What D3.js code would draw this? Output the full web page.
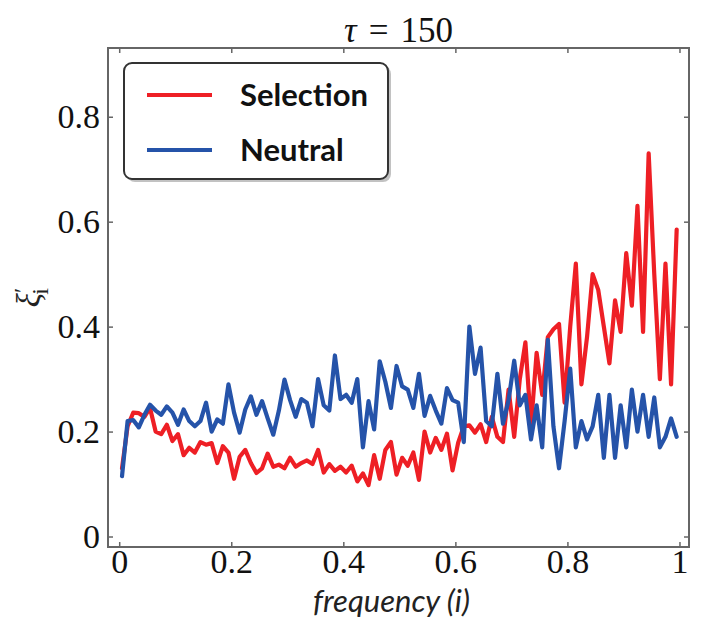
<!DOCTYPE html>
<html>
<head>
<meta charset="utf-8">
<script src="https://cdn.jsdelivr.net/npm/d3@7/dist/d3.min.js"></script>
<style>
    body { margin: 0; background: #fff; }
    .tick text { font-family: "Liberation Serif", "DejaVu Serif", serif; font-size: 34px; fill: #111; }
    .tick line { stroke: #666; stroke-width: 1.5; }
    .frame { fill: none; stroke: #666; stroke-width: 2; }
    .title { font-family: "Liberation Serif", serif; font-size: 35px; fill: #111; }
    .x-label { font-family: "Lato", "Open Sans", sans-serif; font-style: italic; font-size: 31px; fill: #222; }
    .y-label { font-family: "Liberation Serif", serif; font-size: 33px; fill: #222; }
    .legend-text { font-family: "Lato", "Open Sans", sans-serif; font-weight: bold; font-size: 31px; fill: #111; }
</style>
</head>
<body>
<script>

/**********************
 ***    Constants   ***
 **********************/

const SCREEN = {
    width: 704,
    height: 628,
    left: 108,
    right: 689,
    top: 48,
    bottom: 547
};

const X_LABEL = "frequency (i)";

// frequency bins
const freqs = [
    0.005, 0.015, 0.025, 0.035, 0.045, 0.055, 0.065, 0.075, 0.085, 0.095,
    0.105, 0.115, 0.125, 0.135, 0.145, 0.155, 0.165, 0.175, 0.185, 0.195,
    0.205, 0.215, 0.225, 0.235, 0.245, 0.255, 0.265, 0.275, 0.285, 0.295,
    0.305, 0.315, 0.325, 0.335, 0.345, 0.355, 0.365, 0.375, 0.385, 0.395,
    0.405, 0.415, 0.425, 0.435, 0.445, 0.455, 0.465, 0.475, 0.485, 0.495,
    0.505, 0.515, 0.525, 0.535, 0.545, 0.555, 0.565, 0.575, 0.585, 0.595,
    0.605, 0.615, 0.625, 0.635, 0.645, 0.655, 0.665, 0.675, 0.685, 0.695,
    0.705, 0.715, 0.725, 0.735, 0.745, 0.755, 0.765, 0.775, 0.785, 0.795,
    0.805, 0.815, 0.825, 0.835, 0.845, 0.855, 0.865, 0.875, 0.885, 0.895,
    0.905, 0.915, 0.925, 0.935, 0.945, 0.955, 0.965, 0.975, 0.985, 0.995
];

const selection = [
    0.130, 0.210, 0.236, 0.235, 0.228, 0.245, 0.200, 0.195, 0.213, 0.182,
    0.195, 0.155, 0.169, 0.160, 0.180, 0.175, 0.178, 0.140, 0.172, 0.160,
    0.110, 0.152, 0.165, 0.140, 0.121, 0.130, 0.158, 0.133, 0.137, 0.130,
    0.150, 0.133, 0.140, 0.145, 0.138, 0.165, 0.122, 0.138, 0.125, 0.133,
    0.122, 0.135, 0.105, 0.120, 0.098, 0.155, 0.110, 0.165, 0.180, 0.118,
    0.150, 0.135, 0.160, 0.108, 0.200, 0.160, 0.188, 0.165, 0.196, 0.126,
    0.179, 0.210, 0.212, 0.198, 0.214, 0.180, 0.228, 0.190, 0.180, 0.280,
    0.190, 0.300, 0.370, 0.210, 0.350, 0.270, 0.380, 0.395, 0.405, 0.255,
    0.400, 0.520, 0.290, 0.380, 0.500, 0.470, 0.400, 0.330, 0.450, 0.390,
    0.540, 0.440, 0.630, 0.390, 0.730, 0.500, 0.300, 0.520, 0.290, 0.585
];

const neutral = [
    0.115, 0.220, 0.222, 0.208, 0.232, 0.251, 0.240, 0.232, 0.248, 0.236,
    0.213, 0.242, 0.220, 0.210, 0.220, 0.255, 0.200, 0.223, 0.215, 0.290,
    0.236, 0.198, 0.242, 0.267, 0.232, 0.258, 0.225, 0.194, 0.240, 0.299,
    0.260, 0.228, 0.262, 0.255, 0.210, 0.300, 0.250, 0.240, 0.345, 0.262,
    0.270, 0.255, 0.300, 0.170, 0.258, 0.204, 0.334, 0.295, 0.245, 0.325,
    0.286, 0.280, 0.245, 0.310, 0.230, 0.268, 0.240, 0.215, 0.283, 0.260,
    0.255, 0.180, 0.400, 0.310, 0.360, 0.220, 0.210, 0.310, 0.215, 0.260,
    0.335, 0.250, 0.270, 0.185, 0.250, 0.170, 0.375, 0.210, 0.130, 0.220,
    0.320, 0.170, 0.220, 0.185, 0.210, 0.270, 0.150, 0.270, 0.150, 0.250,
    0.170, 0.280, 0.200, 0.270, 0.190, 0.265, 0.170, 0.190, 0.225, 0.190
];

const xTicks = [0, 0.2, 0.4, 0.6, 0.8, 1];
const yTicks = [0, 0.2, 0.4, 0.6, 0.8];

const seriesList = [
    { name: "Selection", values: selection, color: "#ee1f25" },
    { name: "Neutral", values: neutral, color: "#2553a9" }
];

/******************
 *  Scales / svg  *
 ******************/

const x = d3.scaleLinear()
    .domain([-0.02, 1.017])
    .range([SCREEN.left, SCREEN.right]);

const y = d3.scaleLinear()
    .domain([-0.02, 0.931])
    .range([SCREEN.bottom, SCREEN.top]);

const svg = d3.select("body").append("svg")
    .attr("width", SCREEN.width)
    .attr("height", SCREEN.height);

const fmt = d3.format("~g");

// axes, ticks pointing inward on all four sides
svg.append("g")
    .attr("transform", `translate(0,${SCREEN.bottom})`)
    .call(d3.axisBottom(x).tickValues(xTicks).tickSize(-5).tickSizeOuter(0).tickPadding(2).tickFormat(fmt))
    .call(g => g.select(".domain").remove());

svg.append("g")
    .attr("transform", `translate(0,${SCREEN.top})`)
    .call(d3.axisTop(x).tickValues(xTicks).tickSize(-5).tickSizeOuter(0).tickFormat(""))
    .call(g => g.select(".domain").remove());

svg.append("g")
    .attr("transform", `translate(${SCREEN.left},0)`)
    .call(d3.axisLeft(y).tickValues(yTicks).tickSize(-5).tickSizeOuter(0).tickPadding(8).tickFormat(fmt))
    .call(g => g.select(".domain").remove());

svg.append("g")
    .attr("transform", `translate(${SCREEN.right},0)`)
    .call(d3.axisRight(y).tickValues(yTicks).tickSize(-5).tickSizeOuter(0).tickFormat(""))
    .call(g => g.select(".domain").remove());

/******************
 *     Lines      *
 ******************/

const line = d3.line()
    .x((d, i) => x(freqs[i]))
    .y(d => y(d));

svg.append("defs").append("clipPath")
    .attr("id", "plot-clip")
    .append("rect")
    .attr("x", SCREEN.left)
    .attr("y", SCREEN.top)
    .attr("width", SCREEN.right - SCREEN.left)
    .attr("height", SCREEN.bottom - SCREEN.top);

svg.append("g")
    .attr("clip-path", "url(#plot-clip)")
    .selectAll("path")
    .data(seriesList)
    .enter()
    .append("path")
        .attr("d", d => line(d.values))
        .attr("fill", "none")
        .attr("stroke", d => d.color)
        .attr("stroke-width", 4.2)
        .attr("stroke-linejoin", "round")
        .attr("stroke-linecap", "round");

svg.append("rect")
    .attr("class", "frame")
    .attr("x", SCREEN.left)
    .attr("y", SCREEN.top)
    .attr("width", SCREEN.right - SCREEN.left)
    .attr("height", SCREEN.bottom - SCREEN.top);

/******************
 *  Text / legend *
 ******************/

const title = svg.append("text")
    .attr("class", "title")
    .attr("x", (SCREEN.left + SCREEN.right) / 2)
    .attr("y", 42)
    .attr("text-anchor", "middle");
title.append("tspan").attr("font-style", "italic").text("\u03c4");
title.append("tspan").attr("dx", 12).text("=");
title.append("tspan").attr("dx", 12).text("150");

svg.append("text")
    .attr("class", "x-label")
    .attr("x", (SCREEN.left + SCREEN.right) / 2 - 7)
    .attr("y", 612)
    .attr("text-anchor", "middle")
    .text(X_LABEL);

const yLabel = svg.append("text")
    .attr("class", "y-label")
    .attr("transform", `translate(40,${(SCREEN.top + SCREEN.bottom) / 2}) rotate(-90)`)
    .attr("text-anchor", "middle");
yLabel.append("tspan").attr("font-style", "italic").text("\u03be");
yLabel.append("tspan").attr("dy", -10).attr("font-size", 24).text("\u2032");
yLabel.append("tspan").attr("dx", -7).attr("dy", 18).attr("font-size", 24).text("i");

const legend = svg.append("g")
    .attr("transform", "translate(124,63)");

legend.append("rect")
    .attr("x", 3).attr("y", 3)
    .attr("width", 264).attr("height", 116)
    .attr("rx", 8)
    .attr("fill", "#9a9a9a")
    .attr("opacity", 0.6);

legend.append("rect")
    .attr("width", 264).attr("height", 116)
    .attr("rx", 8)
    .attr("fill", "#fff")
    .attr("stroke", "#333")
    .attr("stroke-width", 2);

seriesList.forEach((s, i) => {
    const ly = 32 + i * 55;
    legend.append("line")
        .attr("x1", 23).attr("x2", 88)
        .attr("y1", ly).attr("y2", ly)
        .attr("stroke", s.color)
        .attr("stroke-width", 4);
    legend.append("text")
        .attr("class", "legend-text")
        .attr("x", 116)
        .attr("y", ly)
        .attr("dy", "0.35em")
        .text(s.name);
});

</script>
</body>
</html>
